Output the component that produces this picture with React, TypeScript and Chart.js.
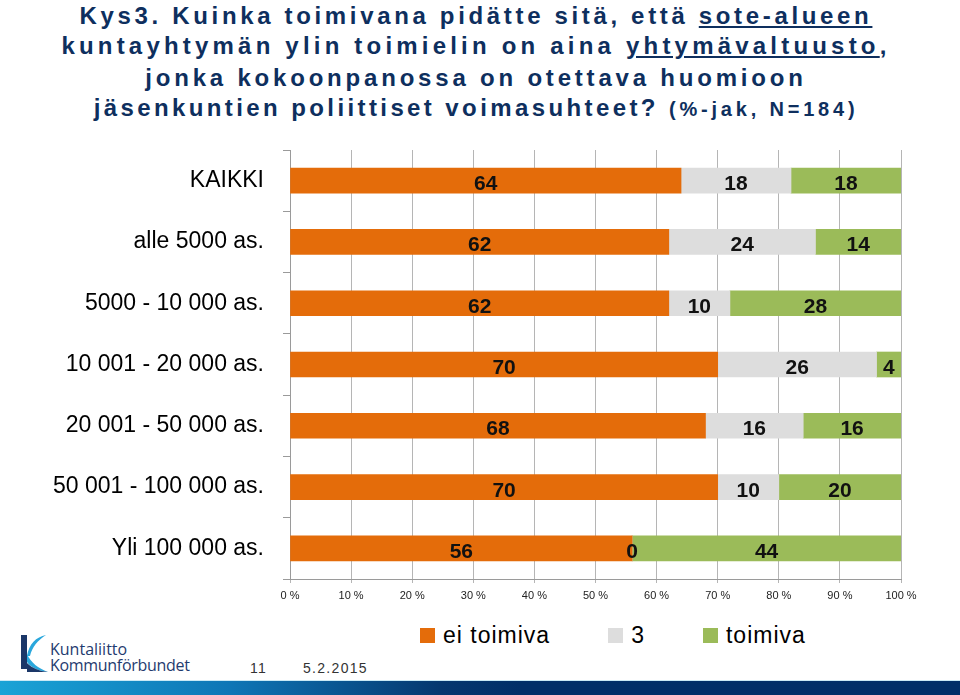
import React, { useEffect, useRef } from 'react';
import { Chart, registerables } from 'chart.js';

Chart.register(...registerables);

const categories = [
  'KAIKKI',
  'alle 5000 as.',
  '5000 - 10 000 as.',
  '10 001 - 20 000 as.',
  '20 001 - 50 000 as.',
  '50 001 - 100 000 as.',
  'Yli 100 000 as.',
];
const eiToimiva = [64, 62, 62, 70, 68, 70, 56];
const kolme = [18, 24, 10, 26, 16, 10, 0];
const toimiva = [18, 14, 28, 4, 16, 20, 44];
const seriesNames = ['ei toimiva', '3', 'toimiva'];
const seriesColors = ['#E46C0A', '#DDDDDD', '#9BBB59'];
const seriesValues = [eiToimiva, kolme, toimiva];
const xMin = 0;
const xMax = 100;
const xStep = 10;

const FONT = '"Liberation Sans", Arial, Helvetica, sans-serif';
const TITLE_COLOR = '#0e2f5e';

const segLabels = {
  id: 'segLabels',
  afterDatasetsDraw(chart: any) {
    const ctx = chart.ctx;
    ctx.save();
    ctx.font = `bold 21px ${FONT}`;
    ctx.fillStyle = '#111';
    ctx.textAlign = 'center';
    ctx.textBaseline = 'alphabetic';
    chart.data.datasets.forEach((ds: any, i: number) => {
      const meta = chart.getDatasetMeta(i);
      meta.data.forEach((el: any, j: number) => {
        const v = ds.data[j];
        const p = el.getProps(['x', 'base', 'y'], true);
        ctx.fillText(String(v), (p.x + p.base) / 2, p.y + 9.5);
      });
    });
    ctx.restore();
  },
};

function ChartCanvas() {
  const ref = useRef<HTMLCanvasElement | null>(null);
  useEffect(() => {
    if (!ref.current) return;
    const chart = new Chart(ref.current, {
      type: 'bar',
      data: {
        labels: categories,
        datasets: seriesNames.map((name, i) => ({
          label: name,
          data: seriesValues[i],
          backgroundColor: seriesColors[i],
          borderWidth: 0,
          barThickness: 25,
        })),
      },
      options: {
        indexAxis: 'y',
        responsive: false,
        devicePixelRatio: 1,
        animation: false,
        layout: { padding: { top: 10, right: 59, left: 0, bottom: 0 } },
        plugins: {
          legend: { display: false },
          title: { display: false },
          tooltip: { enabled: false },
        },
        scales: {
          x: {
            stacked: true,
            min: xMin,
            max: xMax,
            ticks: {
              stepSize: xStep,
              callback: (v: any) => `${v} %`,
              font: { family: FONT, size: 11 },
              color: '#222',
              padding: 6,
              maxRotation: 0,
              autoSkip: false,
            },
            grid: { color: '#b5b5b5', lineWidth: 1, tickLength: 4, drawTicks: true },
            border: { color: '#9a9a9a', width: 1 },
            afterFit: (scale: any) => {
              scale.height = 41;
              scale.paddingLeft = 0;
              scale.paddingRight = 0;
            },
          },
          y: {
            stacked: true,
            ticks: {
              font: { family: FONT, size: 23 },
              color: '#000',
              padding: 19,
            },
            grid: { drawOnChartArea: false, drawTicks: true, tickLength: 7, color: '#9a9a9a', offset: true },
            border: { color: '#9a9a9a', width: 1 },
            afterFit: (scale: any) => {
              scale.width = 290;
              scale.paddingTop = 0;
              scale.paddingBottom = 0;
            },
          },
        },
      } as any,
      plugins: [segLabels],
    });
    return () => chart.destroy();
  }, []);
  return (
    <canvas
      ref={ref}
      width={960}
      height={480}
      style={{ position: 'absolute', left: 0, top: 140, width: 960, height: 480 }}
    />
  );
}

const titleLine = (top: number, ls: number, content: React.ReactNode) => (
  <div
    style={{
      position: 'absolute',
      left: 0,
      top,
      width: 952,
      textAlign: 'center',
      fontFamily: FONT,
      fontWeight: 'bold',
      fontSize: 24,
      lineHeight: '24px',
      letterSpacing: ls,
      color: TITLE_COLOR,
      whiteSpace: 'nowrap',
    }}
  >
    {content}
  </div>
);

export default function App() {
  return (
    <div
      style={{
        position: 'absolute',
        left: 0,
        top: 0,
        width: 960,
        height: 695,
        background: '#fff',
        overflow: 'hidden',
        fontFamily: FONT,
      }}
    >
      {titleLine(3.5, 3.66, (
        <>Kys3. Kuinka toimivana pidätte sitä, että <u>sote-alueen</u></>
      ))}
      {titleLine(34, 4.2, (
        <>kuntayhtymän ylin toimielin on aina <u>yhtymävaltuusto</u>,</>
      ))}
      {titleLine(66, 3.8, <>jonka kokoonpanossa on otettava huomioon</>)}
      {titleLine(96, 3.4, (
        <>
          jäsenkuntien poliittiset voimasuhteet?{' '}
          <span style={{ fontSize: 20, letterSpacing: 3.8 }}>(%-jak, N=184)</span>
        </>
      ))}

      <ChartCanvas />

      <div
        style={{
          position: 'absolute',
          left: 420,
          top: 624,
          height: 23,
          display: 'flex',
          alignItems: 'center',
          gap: 58,
        }}
      >
        {seriesNames.map((name, i) => (
          <div key={name} style={{ display: 'flex', alignItems: 'center', height: 23 }}>
            <div style={{ width: 15, height: 15, background: seriesColors[i], marginRight: 8 }} />
            <span style={{ fontSize: 23, lineHeight: '23px', letterSpacing: 1, color: '#000', whiteSpace: 'nowrap' }}>
              {name}
            </span>
          </div>
        ))}
      </div>

      <svg
        width={32}
        height={42}
        viewBox="0 0 32 42"
        style={{ position: 'absolute', left: 18, top: 632 }}
      >
        <rect x={3} y={3} width={6} height={34} fill="#1b3768" />
        <path d="M9 24 C 11 12, 18 5, 28 3 C 20 8, 14 15, 12 24 Z" fill="#2aa7dc" />
        <path d="M9 22 C 13 31, 20 36, 30 40 C 20 39, 12 35, 9 30 Z" fill="#2aa7dc" />
        <path d="M9 31 C 14 36, 21 39, 30 40 L 9 40 Z" fill="#1b3768" />
      </svg>
      <div
        style={{
          position: 'absolute',
          left: 50,
          top: 641,
          fontFamily: '"Open Sans", sans-serif',
          fontSize: 16,
          lineHeight: '16px',
          color: '#1f3b6f',
          whiteSpace: 'nowrap',
        }}
      >
        Kuntaliitto
      </div>
      <div
        style={{
          position: 'absolute',
          left: 50,
          top: 656.5,
          fontFamily: '"Open Sans", sans-serif',
          fontSize: 16,
          lineHeight: '16px',
          letterSpacing: -0.3,
          color: '#1f3b6f',
          whiteSpace: 'nowrap',
        }}
      >
        Kommunförbundet
      </div>
      <div
        style={{
          position: 'absolute',
          left: 250,
          top: 660.9,
          fontSize: 14,
          lineHeight: '14px',
          letterSpacing: 1.3,
          color: '#333',
        }}
      >
        11
      </div>
      <div
        style={{
          position: 'absolute',
          left: 303,
          top: 660.9,
          fontSize: 14,
          lineHeight: '14px',
          letterSpacing: 1.3,
          color: '#333',
        }}
      >
        5.2.2015
      </div>

      <div
        style={{
          position: 'absolute',
          left: 0,
          top: 680,
          width: 960,
          height: 1,
          background: '#c9e9f5',
        }}
      />
      <div
        style={{
          position: 'absolute',
          left: 0,
          top: 681,
          width: 960,
          height: 14,
          background:
            'linear-gradient(to right, #1aa3d6 0px, #0e76b6 230px, #05376f 440px, #012f68 520px, #002f68 960px)',
        }}
      />
    </div>
  );
}
